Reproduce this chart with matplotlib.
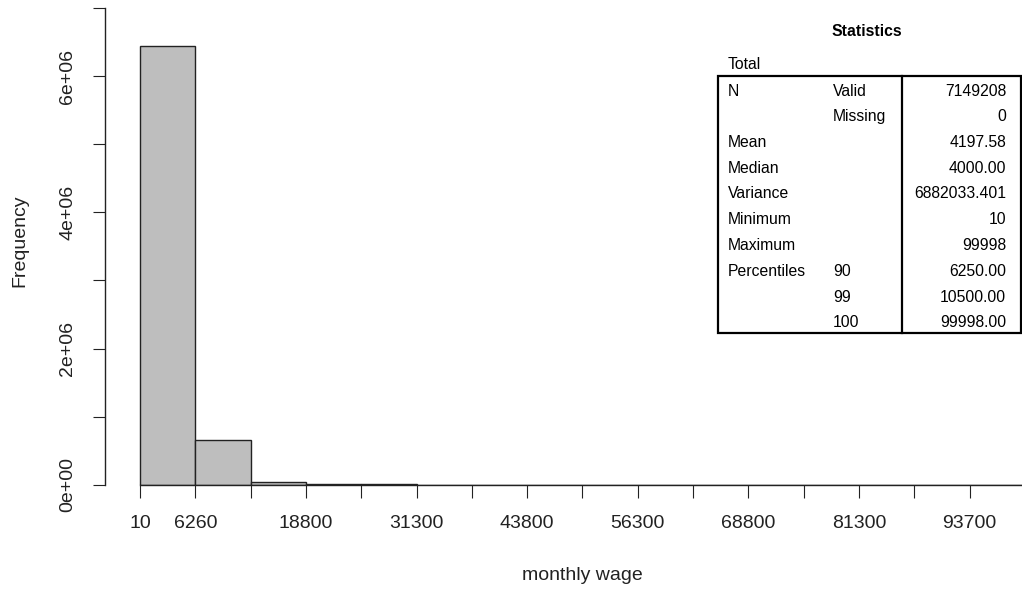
import matplotlib
matplotlib.use("Agg")
import matplotlib.pyplot as plt
from matplotlib.patches import Rectangle
import numpy as np

plt.rcParams["font.family"] = ["Liberation Sans", "DejaVu Sans"]

# histogram of monthly wage: 16 equal bins between min and max
wage_min = 10
wage_max = 99998
n_bins = 16
counts = [6445000, 650000, 33000, 12000, 6000, 1500, 500, 300,
          100, 50, 30, 20, 10, 5, 5, 2]
break_labels = ["10", "6260", "", "18800", "", "31300", "", "43800", "",
                "56300", "", "68800", "", "81300", "", "93700", ""]
y_ticks = [0, 1e6, 2e6, 3e6, 4e6, 5e6, 6e6, 7e6]
y_labels = ["0e+00", "", "2e+06", "", "4e+06", "", "6e+06", ""]

# SPSS style summary table
stat_names = ["N", "", "Mean", "Median", "Variance", "Minimum", "Maximum",
              "Percentiles", "", ""]
stat_sub = ["Valid", "Missing", "", "", "", "", "", "90", "99", "100"]
stat_values = ["7149208", "0", "4197.58", "4000.00", "6882033.401", "10",
               "99998", "6250.00", "10500.00", "99998.00"]

W, H = 1022, 589
fig = plt.figure(figsize=(W / 100, H / 100), dpi=100)


def px(x, y):
    """pixel coords (origin top-left) -> figure fraction"""
    return x / W, 1 - y / H


breaks = np.linspace(wage_min, wage_max, n_bins + 1)
span = wage_max - wage_min
x_lo, x_hi = wage_min - 0.04 * span, wage_max + 0.04 * span

# axes box in pixels; right side runs past the figure edge
left, top, bottom = 104.6, 8.0, 484.7
bin_px = 55.31
right = left + (x_hi - x_lo) / (span / n_bins) * bin_px
ax = fig.add_axes([left / W, (H - bottom) / H, (right - left) / W, (bottom - top) / H])

ax.bar(breaks[:-1], counts, width=np.diff(breaks), align="edge",
       color="#bebebe", edgecolor="#222222", linewidth=1.0)

ax.set_xlim(x_lo, x_hi)
ax.set_ylim(0, 7e6)
ax.set_facecolor("none")

for s in ["top", "right"]:
    ax.spines[s].set_visible(False)
ax.spines["left"].set_bounds(0, 7e6)
ax.spines["bottom"].set_bounds(breaks[0], breaks[-1])
for s in ["left", "bottom"]:
    ax.spines[s].set_linewidth(1.0)
    ax.spines[s].set_color("#222222")

ax.set_xticks(breaks)
ax.set_xticklabels(break_labels)
ax.set_yticks(y_ticks)
ax.set_yticklabels(y_labels, rotation=90, va="center")
ax.tick_params(axis="x", length=9, width=0.8, pad=12.5, labelsize=14, colors="#222222")
ax.tick_params(axis="y", length=8.5, width=0.8, pad=12, labelsize=14, colors="#222222")

ax.set_xlabel("monthly wage", fontsize=14, color="#222222")
ax.set_ylabel("Frequency", fontsize=14, color="#222222")
ax.xaxis.set_label_coords(0.5, -(576 - bottom) / (bottom - top), transform=ax.transAxes)
ax.yaxis.set_label_coords(-(left - 20) / (right - left), (bottom - 241) / (bottom - top))
ax.xaxis.label.set_va("center")
ax.yaxis.label.set_va("center")

# statistics table drawn on top of the figure
fs = 11.3
fig.text(*px(867, 32), "Statistics", fontsize=fs, fontweight="bold",
         ha="center", va="center")
fig.text(*px(728, 69), "Total", fontsize=fs, ha="left", va="baseline")

box_l, box_t, box_r, box_b = 717.5, 76, 1020.5, 333
bx0, by0 = px(box_l, box_b)
bx1, by1 = px(box_r, box_t)
fig.patches.append(Rectangle((bx0, by0), bx1 - bx0, by1 - by0, fill=False,
                             edgecolor="black", linewidth=1.6,
                             transform=fig.transFigure, figure=fig))
dx, _ = px(902, 0)
fig.add_artist(plt.Line2D([dx, dx], [by0, by1], color="black", linewidth=1.6,
                          transform=fig.transFigure))

row0, row_h = 89.5, 25.75
for i, (name, sub, val) in enumerate(zip(stat_names, stat_sub, stat_values)):
    yb = row0 + i * row_h + 6
    fig.text(*px(728, yb), name, fontsize=fs, ha="left", va="baseline")
    fig.text(*px(833, yb), sub, fontsize=fs, ha="left", va="baseline")
    fig.text(*px(1006, yb), val, fontsize=fs, ha="right", va="baseline")

fig.savefig("out.png", dpi=100)
